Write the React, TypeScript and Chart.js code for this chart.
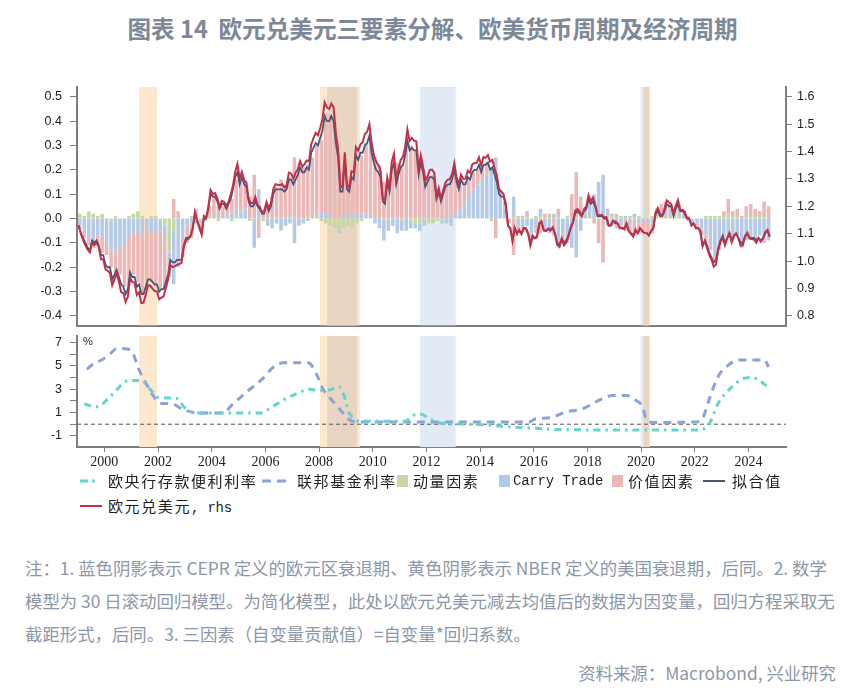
import React, { useEffect, useRef } from "react";
import { Chart, registerables } from "chart.js";
Chart.register(...registerables);

// ---------------- DATA ----------------
// Monthly EUR/USD (rhs), Jan 1999 – Oct 2024
const MONTH_START = 1999;
const EURUSD = [
  1.131, 1.100, 1.077, 1.058, 1.043, 1.032, 1.068, 1.059, 1.068, 1.051, 1.007, 1.007,
  0.970, 0.965, 0.957, 0.912, 0.933, 0.955, 0.925, 0.887, 0.883, 0.851, 0.870, 0.939,
  0.924, 0.921, 0.877, 0.887, 0.847, 0.849, 0.877, 0.912, 0.911, 0.900, 0.891, 0.890,
  0.861, 0.867, 0.872, 0.902, 0.934, 0.986, 0.978, 0.981, 0.987, 0.989, 0.994, 1.049,
  1.077, 1.080, 1.091, 1.117, 1.180, 1.149, 1.124, 1.097, 1.165, 1.158, 1.199, 1.260,
  1.246, 1.248, 1.230, 1.197, 1.220, 1.217, 1.202, 1.216, 1.243, 1.275, 1.326, 1.355,
  1.303, 1.326, 1.296, 1.287, 1.229, 1.211, 1.213, 1.234, 1.205, 1.198, 1.179, 1.184,
  1.216, 1.193, 1.212, 1.262, 1.281, 1.279, 1.277, 1.281, 1.268, 1.277, 1.323, 1.320,
  1.301, 1.323, 1.335, 1.365, 1.345, 1.354, 1.367, 1.364, 1.426, 1.449, 1.468, 1.459,
  1.486, 1.518, 1.579, 1.561, 1.555, 1.575, 1.561, 1.467, 1.411, 1.273, 1.270, 1.397,
  1.280, 1.267, 1.328, 1.324, 1.416, 1.403, 1.426, 1.434, 1.464, 1.472, 1.500, 1.432,
  1.387, 1.363, 1.351, 1.330, 1.229, 1.223, 1.305, 1.268, 1.362, 1.392, 1.299, 1.336,
  1.369, 1.381, 1.416, 1.481, 1.439, 1.450, 1.439, 1.437, 1.340, 1.386, 1.346, 1.294,
  1.309, 1.332, 1.334, 1.323, 1.237, 1.267, 1.230, 1.258, 1.286, 1.297, 1.299, 1.319,
  1.358, 1.306, 1.282, 1.316, 1.300, 1.301, 1.330, 1.322, 1.353, 1.358, 1.359, 1.379,
  1.349, 1.380, 1.377, 1.387, 1.363, 1.369, 1.339, 1.313, 1.263, 1.253, 1.245, 1.210,
  1.129, 1.120, 1.073, 1.122, 1.099, 1.114, 1.098, 1.121, 1.118, 1.100, 1.056, 1.086,
  1.083, 1.088, 1.138, 1.145, 1.113, 1.110, 1.117, 1.115, 1.124, 1.098, 1.059, 1.052,
  1.080, 1.058, 1.067, 1.089, 1.124, 1.142, 1.184, 1.191, 1.181, 1.165, 1.190, 1.200,
  1.241, 1.219, 1.232, 1.208, 1.169, 1.168, 1.169, 1.160, 1.161, 1.131, 1.132, 1.147,
  1.145, 1.137, 1.122, 1.121, 1.117, 1.137, 1.108, 1.099, 1.090, 1.115, 1.102, 1.121,
  1.109, 1.103, 1.103, 1.095, 1.110, 1.123, 1.178, 1.194, 1.172, 1.165, 1.193, 1.222,
  1.214, 1.208, 1.173, 1.202, 1.223, 1.186, 1.187, 1.181, 1.158, 1.156, 1.133, 1.137,
  1.123, 1.122, 1.107, 1.054, 1.073, 1.048, 1.022, 1.005, 0.980, 0.988, 1.041, 1.071,
  1.086, 1.058, 1.084, 1.102, 1.069, 1.091, 1.100, 1.084, 1.057, 1.058, 1.089, 1.104,
  1.082, 1.081, 1.079, 1.067, 1.085, 1.071, 1.083, 1.105, 1.114, 1.088,
];
// Monthly fitted value (lhs)
const FIT = [
  -0.03, -0.06, -0.08, -0.10, -0.12, -0.13, -0.09, -0.10, -0.09, -0.11, -0.15, -0.15,
  -0.19, -0.20, -0.20, -0.25, -0.23, -0.21, -0.24, -0.27, -0.28, -0.31, -0.29, -0.22,
  -0.24, -0.24, -0.28, -0.27, -0.31, -0.31, -0.28, -0.25, -0.25, -0.26, -0.27, -0.27,
  -0.30, -0.29, -0.29, -0.26, -0.23, -0.17, -0.18, -0.18, -0.17, -0.17, -0.17, -0.11,
  -0.08, -0.08, -0.07, -0.04, 0.02, -0.01, -0.04, -0.06, 0.00, 0.00, 0.04, 0.10,
  0.09, 0.09, 0.07, 0.04, 0.06, 0.06, 0.04, 0.06, 0.08, 0.12, 0.17, 0.19,
  0.14, 0.17, 0.14, 0.13, 0.07, 0.05, 0.05, 0.07, 0.05, 0.04, 0.02, 0.02,
  0.06, 0.03, 0.05, 0.10, 0.12, 0.12, 0.12, 0.12, 0.11, 0.12, 0.16, 0.16,
  0.14, 0.16, 0.18, 0.21, 0.19, 0.19, 0.21, 0.20, 0.27, 0.29, 0.31, 0.30,
  0.33, 0.36, 0.42, 0.40, 0.40, 0.42, 0.40, 0.31, 0.25, 0.11, 0.11, 0.24,
  0.12, 0.11, 0.17, 0.16, 0.26, 0.24, 0.27, 0.27, 0.30, 0.31, 0.34, 0.27,
  0.23, 0.20, 0.19, 0.17, 0.07, 0.06, 0.15, 0.11, 0.20, 0.23, 0.14, 0.18,
  0.21, 0.22, 0.26, 0.32, 0.28, 0.29, 0.28, 0.28, 0.18, 0.23, 0.19, 0.13,
  0.15, 0.17, 0.17, 0.16, 0.08, 0.11, 0.07, 0.10, 0.13, 0.14, 0.14, 0.16,
  0.20, 0.15, 0.12, 0.16, 0.14, 0.14, 0.17, 0.16, 0.19, 0.20, 0.20, 0.22,
  0.19, 0.22, 0.22, 0.23, 0.20, 0.21, 0.18, 0.15, 0.10, 0.09, 0.09, 0.05,
  -0.03, -0.04, -0.09, -0.04, -0.06, -0.05, -0.06, -0.04, -0.04, -0.06, -0.10, -0.07,
  -0.08, -0.07, -0.02, -0.02, -0.05, -0.05, -0.04, -0.05, -0.04, -0.06, -0.10, -0.11,
  -0.08, -0.10, -0.09, -0.07, -0.04, -0.02, 0.02, 0.03, 0.02, 0.01, 0.03, 0.04,
  0.08, 0.06, 0.07, 0.05, 0.01, 0.01, 0.01, 0.00, 0.00, -0.03, -0.03, -0.01,
  -0.02, -0.02, -0.04, -0.04, -0.04, -0.02, -0.05, -0.06, -0.07, -0.05, -0.06, -0.04,
  -0.05, -0.06, -0.06, -0.07, -0.05, -0.04, 0.02, 0.03, 0.01, 0.01, 0.03, 0.06,
  0.05, 0.05, 0.01, 0.04, 0.06, 0.03, 0.03, 0.02, 0.00, 0.00, -0.03, -0.02,
  -0.04, -0.04, -0.05, -0.11, -0.09, -0.11, -0.14, -0.16, -0.18, -0.17, -0.12, -0.09,
  -0.07, -0.10, -0.08, -0.06, -0.09, -0.07, -0.06, -0.08, -0.10, -0.10, -0.07, -0.06,
  -0.08, -0.08, -0.08, -0.09, -0.08, -0.09, -0.08, -0.06, -0.05, -0.07,
];
// Bimonthly factor contributions (lhs), Jan/Feb 1999 – Sep/Oct 2024
const BIMONTH_START = 1999;
const MOMENTUM = [
  0.02, 0.01, 0.03, 0.02, 0.01, 0.02,
  0.00, -0.01, 0.01, 0.00, 0.00, 0.01,
  0.02, 0.03, 0.01, 0.00, 0.01, 0.01,
  -0.01, -0.03, -0.14, -0.05, 0.00, 0.00,
  0.00, 0.01, 0.00, -0.01, 0.00, 0.01,
  0.01, -0.01, 0.00, 0.00, -0.01, 0.01,
  0.00, 0.00, -0.01, 0.00, 0.00, -0.01,
  0.00, 0.00, 0.01, 0.00, 0.00, 0.01,
  0.00, 0.00, 0.00, 0.01, 0.00, 0.01,
  -0.01, -0.02, -0.03, -0.04, -0.05, -0.04,
  -0.03, -0.04, -0.02, -0.01, 0.00, 0.00,
  0.00, 0.00, -0.01, 0.00, 0.00, 0.00,
  -0.01, 0.00, -0.01, -0.02, -0.02, -0.01,
  -0.02, -0.02, -0.01, -0.01, 0.00, 0.00,
  0.00, 0.00, 0.00, 0.01, 0.00, 0.00,
  0.00, 0.00, -0.01, 0.00, 0.00, 0.00,
  0.00, 0.01, 0.01, 0.00, 0.01, 0.00,
  0.01, 0.01, 0.00, 0.01, 0.00, 0.01,
  0.00, 0.01, 0.00, 0.01, 0.01, 0.00,
  0.01, 0.00, 0.01, 0.00, 0.01, 0.01,
  0.00, 0.01, 0.00, 0.01, 0.00, 0.01,
  0.00, 0.00, 0.01, 0.01, 0.01, 0.01,
  0.01, 0.01, 0.01, 0.00, 0.00, 0.00,
  0.00, 0.00, 0.01, 0.01, 0.01, 0.01,
  0.01, 0.02, 0.01, 0.01, 0.00, 0.01,
  0.01, 0.01, 0.01, 0.01, 0.00,
];
const CARRY = [
  -0.03, -0.06, -0.08, -0.10, -0.07, -0.08,
  -0.10, -0.12, -0.14, -0.12, -0.10, -0.08,
  -0.06, -0.05, -0.07, -0.04, -0.06, -0.05,
  -0.04, -0.05, -0.03, -0.22, -0.20, -0.08,
  -0.03, -0.02, 0.04, -0.01, -0.01, 0.00,
  0.01, 0.00, 0.01, 0.01, 0.02, 0.03,
  0.03, 0.04, 0.00, -0.12, 0.12, 0.00,
  -0.03, -0.04, -0.02, -0.05, -0.03, -0.02,
  -0.10, -0.03, -0.02, -0.01, 0.00, 0.01,
  0.02, 0.03, 0.01, 0.00, -0.01, 0.02,
  0.01, 0.02, 0.02, 0.02, 0.02, 0.01,
  -0.02, -0.04, -0.08, -0.05, -0.03, -0.06,
  -0.04, -0.05, -0.03, -0.02, -0.03, -0.02,
  0.00, 0.00, 0.00, -0.01, -0.02, -0.03,
  0.02, 0.04, 0.07, 0.09, 0.12, 0.14,
  0.16, 0.18, 0.20, 0.25, 0.10, 0.05,
  0.00, 0.08, -0.03, -0.04, -0.03, -0.06,
  -0.04, 0.03, -0.05, -0.06, 0.02, -0.10,
  -0.06, -0.08, -0.12, -0.16, -0.05, 0.02,
  0.06, 0.10, 0.14, 0.18, 0.03, -0.03,
  0.02, -0.03, 0.01, -0.03, 0.02, -0.02,
  -0.01, -0.01, -0.02, 0.02, 0.02, 0.02,
  0.03, 0.01, 0.02, 0.01, -0.01, -0.02,
  -0.02, -0.04, -0.07, -0.11, -0.15, -0.12,
  -0.10, -0.08, -0.09, -0.07, -0.12, -0.09,
  -0.08, -0.09, -0.07, -0.10, -0.09,
];
const VALUE = [
  -0.01, -0.02, -0.03, -0.02, -0.04, -0.06,
  -0.05, -0.07, -0.08, -0.11, -0.18, -0.19,
  -0.17, -0.21, -0.24, -0.25, -0.20, -0.23,
  -0.24, -0.21, -0.07, 0.08, 0.03, -0.08,
  -0.07, -0.06, -0.02, -0.03, 0.01, 0.04,
  0.08, 0.05, 0.04, 0.05, 0.06, 0.12,
  0.12, 0.11, 0.09, 0.18, -0.08, 0.03,
  0.06, 0.09, 0.12, 0.16, 0.14, 0.16,
  0.25, 0.20, 0.21, 0.21, 0.25, 0.28,
  0.30, 0.40, 0.42, 0.40, 0.26, 0.17,
  0.15, 0.16, 0.21, 0.24, 0.29, 0.30,
  0.25, 0.22, 0.15, 0.16, 0.21, 0.23,
  0.22, 0.30, 0.30, 0.28, 0.23, 0.20,
  0.17, 0.18, 0.12, 0.10, 0.14, 0.16,
  0.15, 0.10, 0.08, 0.06, 0.07, 0.06,
  0.05, 0.05, 0.01, -0.08, 0.02, 0.02,
  -0.02, -0.15, -0.02, 0.01, 0.02, -0.02,
  -0.02, -0.06, 0.02, 0.01, -0.07, 0.03,
  -0.04, -0.02, 0.10, 0.18, 0.08, 0.02,
  0.01, -0.02, -0.10, -0.18, -0.03, 0.01,
  -0.04, -0.01, -0.05, -0.02, -0.07, -0.04,
  -0.05, -0.06, -0.04, 0.01, 0.03, 0.04,
  0.02, 0.02, 0.03, 0.01, 0.01, -0.01,
  -0.01, -0.03, -0.03, -0.02, -0.02, -0.01,
  0.02, 0.06, 0.02, 0.03, 0.01, 0.04,
  0.05, 0.03, 0.02, 0.06, 0.05,
];
// Policy rates (%)
const ECB_DATES = [1999.25, 1999.5, 1999.75, 2000.1, 2000.4, 2000.65, 2000.9, 2001.35, 2001.7, 2002.0, 2002.7, 2003.0, 2003.45, 2005.8, 2006.2, 2006.65, 2007.15, 2007.65, 2007.9, 2008.3, 2008.75, 2008.95, 2009.1, 2009.3, 2009.5, 2011.2, 2011.5, 2011.8, 2012.1, 2012.5, 2013.6, 2014.5, 2014.9, 2016.0, 2016.9, 2019.9, 2022.05, 2022.5, 2022.9, 2023.3, 2023.8, 2024.15, 2024.4, 2024.72];
const ECB_RATE = [1.75, 1.55, 1.5, 2.1, 2.8, 3.4, 3.75, 3.75, 3.0, 2.3, 2.2, 1.4, 0.95, 0.95, 1.4, 2.05, 2.6, 3.0, 2.9, 2.9, 3.2, 2.3, 1.05, 0.5, 0.25, 0.25, 0.75, 0.85, 0.5, 0.1, 0.0, -0.1, -0.2, -0.35, -0.45, -0.5, -0.5, -0.1, 1.9, 3.0, 3.9, 4.0, 3.75, 3.2];
const FED_DATES = [1999.35, 1999.6, 1999.9, 2000.2, 2000.45, 2000.75, 2001.0, 2001.3, 2001.55, 2001.8, 2002.1, 2002.5, 2002.95, 2003.5, 2004.4, 2004.8, 2005.4, 2005.9, 2006.3, 2006.65, 2007.6, 2007.9, 2008.15, 2008.5, 2008.8, 2009.15, 2009.5, 2015.85, 2016.05, 2016.6, 2017.2, 2017.8, 2018.3, 2018.95, 2019.45, 2019.8, 2020.05, 2020.2, 2020.45, 2022.05, 2022.3, 2022.55, 2022.85, 2023.3, 2023.65, 2024.6, 2024.75];
const FED_RATE = [4.7, 5.2, 5.5, 6.0, 6.45, 6.45, 6.3, 4.6, 3.5, 2.5, 1.8, 1.75, 1.25, 0.95, 0.95, 1.75, 2.95, 3.9, 4.9, 5.25, 5.25, 4.3, 3.0, 2.0, 1.2, 0.35, 0.2, 0.2, 0.45, 0.55, 1.05, 1.3, 1.9, 2.45, 2.45, 2.05, 1.5, 0.4, 0.15, 0.2, 0.55, 2.2, 4.0, 5.15, 5.5, 5.5, 4.9];
// Recessions (decimal years)
const NBER_START = [2001.30, 2008.04, 2020.09];
const NBER_END = [2001.96, 2009.52, 2020.31];
const CEPR_START = [2008.30, 2011.76, 2019.99];
const CEPR_END = [2009.42, 2013.09, 2020.31];
// Ticks
const LEFT_TICKS = [0.5, 0.4, 0.3, 0.2, 0.1, 0.0, -0.1, -0.2, -0.3, -0.4];
const RIGHT_TICKS = [1.6, 1.5, 1.4, 1.3, 1.2, 1.1, 1.0, 0.9, 0.8];
const RATE_TICKS = [-1, 0, 1, 2, 3, 4, 5, 6, 7];
const RATE_LABELS = [7, 5, 3, 1, -1];
const YEAR_TICKS = [2000, 2002, 2004, 2006, 2008, 2010, 2012, 2014, 2016, 2018, 2020, 2022, 2024];

const TITLE = "图表 14  欧元兑美元三要素分解、欧美货币周期及经济周期";
const NOTE_LINES = [
  "注：1. 蓝色阴影表示 CEPR 定义的欧元区衰退期、黄色阴影表示 NBER 定义的美国衰退期，后同。2. 数学",
  "模型为 30 日滚动回归模型。为简化模型，此处以欧元兑美元减去均值后的数据为因变量，回归方程采取无",
  "截距形式，后同。3. 三因素（自变量贡献值）=自变量*回归系数。",
];
const SOURCE = "资料来源：Macrobond, 兴业研究";

// ---------------- STYLE ----------------
const X_MIN = 1998.98;
const X_MAX = 2025.4;
const AXIS = "#7d7d7d";
const C_GREEN = "#c7d8a6";
const C_BLUE = "#b5cae6";
const C_PINK = "#ecb7b7";
const C_RED = "#c3304a";
const C_FIT = "#4b5675";
const C_ECB = "#63d5cc";
const C_FED = "#8ea1d8";
const SH_YELLOW = "#fde8cd";
const SH_BLUE = "#e1eaf5";
const SH_TAN = "#e8d6c2";
const CJK = '"Noto Sans CJK SC", "Noto Sans", sans-serif';

const monthT = (i: number) => MONTH_START + (i + 0.5) / 12;
const bimT = (k: number) => BIMONTH_START + (k + 0.5) / 6;

const shadePlugin = {
  id: "shade",
  beforeDatasetsDraw(chart: any) {
    const { ctx, chartArea: a, scales } = chart;
    const x = scales.x;
    ctx.save();
    ctx.beginPath();
    ctx.rect(a.left, a.top, a.right - a.left, a.bottom - a.top);
    ctx.clip();
    const fill = (s: number, e: number, c: string) => {
      const x0 = x.getPixelForValue(s);
      const x1 = x.getPixelForValue(e);
      ctx.fillStyle = c;
      ctx.fillRect(x0, a.top, x1 - x0, a.bottom - a.top);
    };
    NBER_START.forEach((s, i) => fill(s, NBER_END[i], SH_YELLOW));
    CEPR_START.forEach((s, i) => fill(s, CEPR_END[i], SH_BLUE));
    NBER_START.forEach((s, i) => {
      CEPR_START.forEach((s2, j) => {
        const lo = Math.max(s, s2);
        const hi = Math.min(NBER_END[i], CEPR_END[j]);
        if (hi > lo) fill(lo, hi, SH_TAN);
      });
    });
    if (chart.options.plugins?.shade?.zeroLine) {
      const y0 = scales.y.getPixelForValue(0);
      ctx.strokeStyle = "#555";
      ctx.lineWidth = 1;
      ctx.setLineDash([4, 3]);
      ctx.beginPath();
      ctx.moveTo(a.left, y0);
      ctx.lineTo(a.right, y0);
      ctx.stroke();
    }
    ctx.restore();
  },
};

const tickFont = { family: '"Liberation Sans", Arial, sans-serif', size: 12.5 };
const noPad = (s: any) => {
  s.paddingTop = 0;
  s.paddingBottom = 0;
  s.paddingLeft = 0;
  s.paddingRight = 0;
};

function TopChart() {
  const ref = useRef<HTMLCanvasElement>(null);
  useEffect(() => {
    const bar = (label: string, arr: number[], color: string, order: number) => ({
      type: "bar" as const,
      label,
      data: arr.map((v, k) => ({ x: bimT(k), y: v })),
      backgroundColor: color,
      borderWidth: 0,
      yAxisID: "yb",
      stack: "f",
      order,
      categoryPercentage: 0.8,
      barPercentage: 1,
    });
    const chart = new Chart(ref.current as HTMLCanvasElement, {
      type: "bar",
      data: {
        datasets: [
          bar("动量因素", MOMENTUM, C_GREEN, 3),
          bar("Carry Trade", CARRY, C_BLUE, 4),
          bar("价值因素", VALUE, C_PINK, 5),
          {
            type: "line",
            label: "拟合值",
            data: FIT.map((v, i) => ({ x: monthT(i), y: v })),
            borderColor: C_FIT,
            borderWidth: 1.8,
            pointRadius: 0,
            yAxisID: "y",
            stack: "fit",
            order: 2,
          } as any,
          {
            type: "line",
            label: "欧元兑美元，rhs",
            data: EURUSD.map((v, i) => ({ x: monthT(i), y: v })),
            borderColor: C_RED,
            borderWidth: 2,
            pointRadius: 0,
            yAxisID: "y1",
            stack: "fx",
            order: 1,
          } as any,
        ],
      },
      options: {
        responsive: false,
        animation: false,
        layout: { padding: { top: 6.7, bottom: 4.5, left: 0, right: 0 } },
        plugins: { legend: { display: false }, tooltip: { enabled: false } },
        scales: {
          x: {
            type: "linear",
            min: X_MIN,
            max: X_MAX,
            offset: false,
            ticks: { display: false },
            grid: { display: true, drawOnChartArea: false, drawTicks: false, offset: false },
            border: { display: true, color: AXIS, width: 2 },
            afterFit: (s: any) => { s.height = 0; noPad(s); },
          },
          y: {
            position: "left",
            min: -0.439,
            max: 0.541,
            afterBuildTicks: (s: any) => { s.ticks = LEFT_TICKS.map((v) => ({ value: v })); },
            ticks: { autoSkip: false, callback: (v: any) => Number(v).toFixed(1), font: tickFont, color: "#222", padding: 8 },
            grid: { drawOnChartArea: false, tickLength: 7, color: AXIS, lineWidth: 1 },
            border: { display: true, color: AXIS, width: 2 },
            afterFit: (s: any) => { s.width = 77; noPad(s); },
          },
          y1: {
            position: "right",
            min: 0.7653,
            max: 1.6365,
            afterBuildTicks: (s: any) => { s.ticks = RIGHT_TICKS.map((v) => ({ value: v })); },
            ticks: { autoSkip: false, callback: (v: any) => Number(v).toFixed(1), font: tickFont, color: "#222", padding: 5 },
            grid: { drawOnChartArea: false, tickLength: 6, color: AXIS, lineWidth: 1 },
            border: { display: true, color: AXIS, width: 2 },
            afterFit: (s: any) => { s.width = 79; noPad(s); },
          },
          yb: {
            display: false,
            stacked: true,
            min: -0.439,
            max: 0.541,
          },
        },
      } as any,
      plugins: [shadePlugin],
    });
    return () => chart.destroy();
  }, []);
  return (
    <canvas
      ref={ref}
      width={865}
      height={250}
      style={{ position: "absolute", left: 0, top: 80, width: 865, height: 250 }}
    />
  );
}

function BottomChart() {
  const ref = useRef<HTMLCanvasElement>(null);
  useEffect(() => {
    const chart = new Chart(ref.current as HTMLCanvasElement, {
      type: "line",
      data: {
        datasets: [
          {
            label: "欧央行存款便利利率",
            data: ECB_DATES.map((t, i) => ({ x: t, y: ECB_RATE[i] })),
            borderColor: C_ECB,
            borderWidth: 3,
            borderDash: [7, 5, 2.5, 5],
            pointRadius: 0,
            cubicInterpolationMode: "monotone",
          },
          {
            label: "联邦基金利率",
            data: FED_DATES.map((t, i) => ({ x: t, y: FED_RATE[i] })),
            borderColor: C_FED,
            borderWidth: 3,
            borderDash: [8, 6],
            pointRadius: 0,
            cubicInterpolationMode: "monotone",
          },
        ],
      },
      options: {
        responsive: false,
        animation: false,
        layout: { padding: { top: 6, bottom: 0, left: 0, right: 79 } },
        plugins: { legend: { display: false }, tooltip: { enabled: false }, shade: { zeroLine: true } },
        scales: {
          x: {
            type: "linear",
            min: X_MIN,
            max: X_MAX,
            afterBuildTicks: (s: any) => { s.ticks = YEAR_TICKS.map((v) => ({ value: v })); },
            ticks: {
              autoSkip: false,
              maxRotation: 0,
              callback: (v: any) => String(v),
              font: { family: '"Liberation Serif", serif', size: 14 },
              color: "#222",
              padding: 2,
            },
            grid: { drawOnChartArea: false, tickLength: 5, color: AXIS, lineWidth: 1 },
            border: { display: true, color: AXIS, width: 2 },
            afterFit: (s: any) => { s.height = 33; noPad(s); },
          },
          y: {
            min: -1.95,
            max: 7.55,
            afterBuildTicks: (s: any) => { s.ticks = RATE_TICKS.map((v) => ({ value: v })); },
            ticks: {
              autoSkip: false,
              callback: (v: any) => (RATE_LABELS.includes(Number(v)) ? String(v) : ""),
              font: tickFont,
              color: "#222",
              padding: 8,
            },
            grid: { drawOnChartArea: false, tickLength: 7, color: AXIS, lineWidth: 1 },
            border: { display: true, color: AXIS, width: 2 },
            afterFit: (s: any) => { s.width = 77; noPad(s); },
          },
        },
      } as any,
      plugins: [shadePlugin],
    });
    return () => chart.destroy();
  }, []);
  return (
    <canvas
      ref={ref}
      width={865}
      height={150}
      style={{ position: "absolute", left: 0, top: 330, width: 865, height: 150 }}
    />
  );
}

const legendText: React.CSSProperties = {
  position: "absolute",
  fontFamily: CJK,
  fontSize: 15,
  letterSpacing: 1.6,
  color: "#1e1e1e",
  lineHeight: "22px",
  whiteSpace: "pre",
};
const mono: React.CSSProperties = { fontFamily: '"Liberation Mono", monospace', fontSize: 14, letterSpacing: -0.2 };

function LineSample({ left, top, width, color, dash, w }: { left: number; top: number; width: number; color: string; dash?: string; w: number }) {
  return (
    <svg style={{ position: "absolute", left, top: top - 4 }} width={width} height={8}>
      <line x1={0} y1={4} x2={width} y2={4} stroke={color} strokeWidth={w} strokeDasharray={dash} />
    </svg>
  );
}

function Box({ left, top, color }: { left: number; top: number; color: string }) {
  return <div style={{ position: "absolute", left, top: top - 6, width: 11, height: 12, background: color }} />;
}

function Legend() {
  const r1 = 481;
  const r2 = 506;
  return (
    <>
      <LineSample left={80} top={r1} width={18} color={C_ECB} dash="8 4 3 4" w={3} />
      <span style={{ ...legendText, left: 108, top: r1 - 11 }}>欧央行存款便利利率</span>
      <LineSample left={262} top={r1} width={26} color={C_FED} dash="9 6" w={3} />
      <span style={{ ...legendText, left: 297, top: r1 - 11 }}>联邦基金利率</span>
      <Box left={397} top={r1} color={C_GREEN} />
      <span style={{ ...legendText, left: 413, top: r1 - 11 }}>动量因素</span>
      <Box left={499} top={r1} color={C_BLUE} />
      <span style={{ ...legendText, ...mono, left: 513, top: r1 - 11 }}>Carry Trade</span>
      <Box left={612} top={r1} color={C_PINK} />
      <span style={{ ...legendText, left: 628, top: r1 - 11 }}>价值因素</span>
      <LineSample left={703} top={r1} width={22} color={C_FIT} w={2} />
      <span style={{ ...legendText, left: 732, top: r1 - 11 }}>拟合值</span>
      <LineSample left={80} top={r2} width={22} color={C_RED} w={2} />
      <span style={{ ...legendText, left: 108, top: r2 - 11 }}>
        欧元兑美元<span style={mono}>, rhs</span>
      </span>
    </>
  );
}

export default function App() {
  return (
    <div style={{ position: "absolute", left: 0, top: 0, width: 865, height: 691, background: "#fff", overflow: "hidden" }}>
      <div
        style={{
          position: "absolute",
          left: 0,
          top: 13,
          width: 865,
          textAlign: "center",
          fontFamily: CJK,
          fontWeight: 700,
          fontSize: 23.6,
          lineHeight: "30px",
          color: "#7d8898",
          whiteSpace: "pre",
        }}
      >
        {TITLE}
      </div>
      <TopChart />
      <BottomChart />
      <div style={{ position: "absolute", left: 83, top: 335, fontFamily: '"Liberation Sans", sans-serif', fontSize: 11, color: "#222" }}>%</div>
      <Legend />
      <div
        style={{
          position: "absolute",
          left: 25,
          top: 551,
          fontFamily: CJK,
          fontSize: 17.4,
          lineHeight: "33px",
          color: "#8c97a9",
          whiteSpace: "pre",
        }}
      >
        {NOTE_LINES.map((l, i) => (
          <div key={i}>{l}</div>
        ))}
      </div>
      <div
        style={{
          position: "absolute",
          right: 29,
          top: 656,
          fontFamily: CJK,
          fontSize: 17.4,
          lineHeight: "33px",
          color: "#8c97a9",
          whiteSpace: "pre",
        }}
      >
        {SOURCE}
      </div>
    </div>
  );
}
